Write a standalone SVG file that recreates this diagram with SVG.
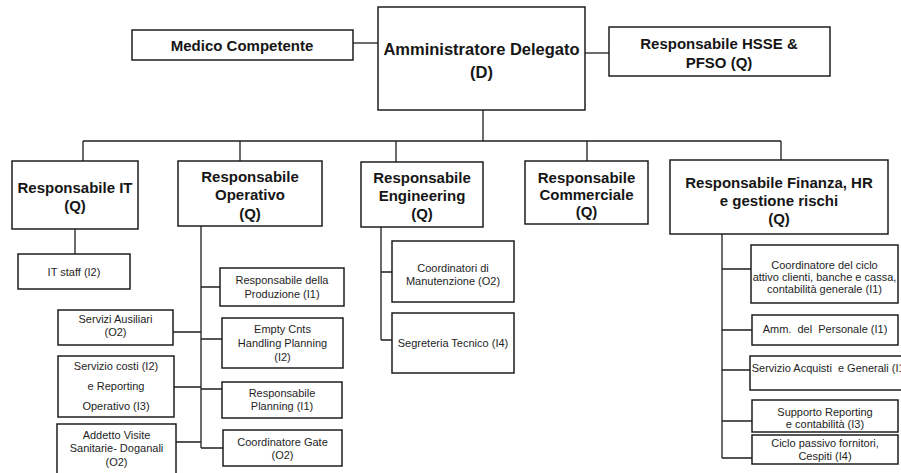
<svg xmlns="http://www.w3.org/2000/svg" width="901" height="473" viewBox="0 0 901 473">
  <style>
    .box { fill: #ffffff; stroke: #1e1e1e; stroke-width: 1.5; }
    .wire { fill: none; stroke: #1e1e1e; stroke-width: 1.3; }
    .big { font-family: "Liberation Sans", Arial, sans-serif; font-weight: bold; font-size: 15px; fill: #161616; text-anchor: middle; dominant-baseline: central; }
    .top { font-size: 16.5px; }
    .small { font-family: "Liberation Sans", Arial, sans-serif; font-size: 11px; fill: #1e1e1e; text-anchor: middle; dominant-baseline: central; white-space: pre; }
  </style>
  <rect width="901" height="473" fill="#ffffff"/>

  <!-- connectors -->
  <g id="connectors" class="wire">
    <path d="M353,43 H378"/>
    <path d="M585,53 H609"/>
    <path d="M483,110 V141"/>
    <path d="M83,141 H781"/>
    <path d="M83,141 V161 M240,141 V161 M396,141 V162 M587,141 V161 M781,141 V160"/>
    <!-- IT -->
    <path d="M75,229 V254"/>
    <!-- Operativo -->
    <path d="M201,226 V448"/>
    <path d="M201,287 H220 M201,339 H222 M201,389 H222 M201,448 H223"/>
    <path d="M173,332 H201 M174,387 H201 M176,442 H201"/>
    <!-- Engineering -->
    <path d="M381,227 V340 M381,272 H392 M381,340 H392"/>
    <!-- Finanza -->
    <path d="M722,234 V458"/>
    <path d="M722,269 H751 M722,330 H752 M722,370 H750 M722,421 H752 M722,458 H752"/>
  </g>

  <!-- top level -->
  <g id="medico">
    <rect class="box" x="132" y="30" width="221" height="30"/>
    <text class="big" x="242" y="45">Medico Competente</text>
  </g>
  <g id="ad">
    <rect class="box" x="378" y="7" width="207" height="103"/>
    <text class="big top" x="481.5" y="49">Amministratore Delegato</text>
    <text class="big top" x="481.5" y="72">(D)</text>
  </g>
  <g id="hsse">
    <rect class="box" x="609" y="27" width="221" height="49"/>
    <text class="big" x="719" y="43">Responsabile HSSE &amp;</text>
    <text class="big" x="719" y="62">PFSO (Q)</text>
  </g>

  <!-- second level -->
  <g id="resp-it">
    <rect class="box" x="12" y="161" width="126" height="68"/>
    <text class="big" x="75" y="187">Responsabile IT</text>
    <text class="big" x="75" y="205">(Q)</text>
  </g>
  <g id="resp-operativo">
    <rect class="box" x="178" y="161" width="144" height="65"/>
    <text class="big" x="250" y="176">Responsabile</text>
    <text class="big" x="250" y="194">Operativo</text>
    <text class="big" x="250" y="213">(Q)</text>
  </g>
  <g id="resp-engineering">
    <rect class="box" x="361" y="162" width="122" height="65"/>
    <text class="big" x="422" y="177">Responsabile</text>
    <text class="big" x="422" y="195">Engineering</text>
    <text class="big" x="422" y="213">(Q)</text>
  </g>
  <g id="resp-commerciale">
    <rect class="box" x="525" y="161" width="123" height="63"/>
    <text class="big" x="586.5" y="177">Responsabile</text>
    <text class="big" x="586.5" y="194">Commerciale</text>
    <text class="big" x="586.5" y="211">(Q)</text>
  </g>
  <g id="resp-finanza">
    <rect class="box" x="670" y="160" width="218" height="74"/>
    <text class="big" x="779" y="182">Responsabile Finanza, HR</text>
    <text class="big" x="779" y="200">e gestione rischi</text>
    <text class="big" x="779" y="218">(Q)</text>
  </g>

  <!-- IT staff -->
  <g id="it-staff">
    <rect class="box" x="18" y="254" width="112" height="35"/>
    <text class="small" x="74" y="272">IT staff (I2)</text>
  </g>

  <!-- Operativo, right side -->
  <g id="resp-produzione">
    <rect class="box" x="220" y="268" width="124" height="38"/>
    <text class="small" x="282" y="280">Responsabile della</text>
    <text class="small" x="282" y="294">Produzione (I1)</text>
  </g>
  <g id="empty-cnts">
    <rect class="box" x="222" y="318" width="121" height="50"/>
    <text class="small" x="282.5" y="329">Empty Cnts</text>
    <text class="small" x="282.5" y="343">Handling Planning</text>
    <text class="small" x="282.5" y="357">(I2)</text>
  </g>
  <g id="resp-planning">
    <rect class="box" x="222" y="382" width="120" height="36"/>
    <text class="small" x="282" y="393">Responsabile</text>
    <text class="small" x="282" y="406">Planning (I1)</text>
  </g>
  <g id="coord-gate">
    <rect class="box" x="223" y="430" width="119" height="36"/>
    <text class="small" x="282.5" y="442">Coordinatore Gate</text>
    <text class="small" x="282.5" y="455">(O2)</text>
  </g>

  <!-- Operativo, left side -->
  <g id="servizi-ausiliari">
    <rect class="box" x="58" y="310" width="115" height="35"/>
    <text class="small" x="115.5" y="319">Servizi Ausiliari</text>
    <text class="small" x="115.5" y="332">(O2)</text>
  </g>
  <g id="servizio-costi">
    <rect class="box" x="58" y="356" width="116" height="61"/>
    <text class="small" x="116" y="366">Servizio costi (I2)</text>
    <text class="small" x="116" y="386">e Reporting</text>
    <text class="small" x="116" y="406">Operativo (I3)</text>
  </g>
  <g id="addetto-visite">
    <rect class="box" x="57" y="424" width="119" height="60"/>
    <text class="small" x="116.5" y="435">Addetto Visite</text>
    <text class="small" x="116.5" y="448">Sanitarie- Doganali</text>
    <text class="small" x="116.5" y="462">(O2)</text>
  </g>

  <!-- Engineering -->
  <g id="coord-manutenzione">
    <rect class="box" x="392" y="241" width="122" height="61"/>
    <text class="small" x="453" y="268">Coordinatori di</text>
    <text class="small" x="453" y="281">Manutenzione (O2)</text>
  </g>
  <g id="segreteria-tecnico">
    <rect class="box" x="392" y="313" width="122" height="60"/>
    <text class="small" x="453" y="343">Segreteria Tecnico (I4)</text>
  </g>

  <!-- Finanza -->
  <g id="ciclo-attivo">
    <rect class="box" x="751" y="245" width="147" height="58"/>
    <text class="small" x="824.5" y="265">Coordinatore del ciclo</text>
    <text class="small" x="824.5" y="277">attivo clienti, banche e cassa,</text>
    <text class="small" x="824.5" y="289">contabilità generale (I1)</text>
  </g>
  <g id="amm-personale">
    <rect class="box" x="752" y="315" width="146" height="30"/>
    <text class="small" x="825" y="329">Amm.  del  Personale (I1)</text>
  </g>
  <g id="servizio-acquisti">
    <rect class="box" x="750" y="356" width="160" height="34"/>
    <text class="small" x="830" y="368">Servizio Acquisti  e Generali (I1)</text>
  </g>
  <g id="supporto-reporting">
    <rect class="box" x="752" y="400" width="146" height="32"/>
    <text class="small" x="825" y="412">Supporto Reporting</text>
    <text class="small" x="825" y="424">e contabilità (I3)</text>
  </g>
  <g id="ciclo-passivo">
    <rect class="box" x="752" y="435" width="146" height="29"/>
    <text class="small" x="825" y="443">Ciclo passivo fornitori,</text>
    <text class="small" x="825" y="456">Cespiti (I4)</text>
  </g>
</svg>
